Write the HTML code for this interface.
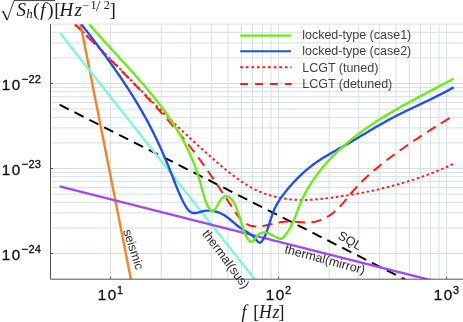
<!DOCTYPE html>
<html><head><meta charset="utf-8"><title>Sensitivity curves</title>
<style>
html,body{margin:0;padding:0;background:#fff;}
body{width:463px;height:322px;overflow:hidden;font-family:"Liberation Sans",sans-serif;}
svg{display:block;will-change:transform;}
</style></head><body>
<svg width="463" height="322" viewBox="0 0 463 322">
<rect width="463" height="322" fill="#fff"/>
<path d="M110.6,24.2 V279.2 M161.2,24.2 V279.2 M190.8,24.2 V279.2 M211.7,24.2 V279.2 M228.0,24.2 V279.2 M241.3,24.2 V279.2 M252.6,24.2 V279.2 M262.3,24.2 V279.2 M270.9,24.2 V279.2 M278.6,24.2 V279.2 M329.2,24.2 V279.2 M358.8,24.2 V279.2 M379.7,24.2 V279.2 M396.0,24.2 V279.2 M409.3,24.2 V279.2 M420.6,24.2 V279.2 M430.3,24.2 V279.2 M438.9,24.2 V279.2 M446.6,24.2 V279.2 M50.5,253.5 H463 M50.5,227.9 H463 M50.5,212.9 H463 M50.5,202.3 H463 M50.5,194.1 H463 M50.5,187.4 H463 M50.5,181.7 H463 M50.5,176.7 H463 M50.5,172.4 H463 M50.5,168.5 H463 M50.5,142.9 H463 M50.5,127.9 H463 M50.5,117.3 H463 M50.5,109.1 H463 M50.5,102.4 H463 M50.5,96.7 H463 M50.5,91.7 H463 M50.5,87.4 H463 M50.5,83.5 H463 M50.5,57.9 H463 M50.5,42.9 H463 M50.5,32.3 H463 M50.5,24.1 H463" stroke="#d6dfe4" stroke-width="1" fill="none"/>
<clipPath id="c"><rect x="50.5" y="24.2" width="412.5" height="255.0"/></clipPath>
<g clip-path="url(#c)" fill="none" stroke-width="2.35">
<path d="M59.6,104.7 L408.4,281.2" stroke="#000" stroke-width="1.95" stroke-dasharray="10.2 6.47"/>
<path d="M75.0,24.5 L75.8,25.3 L76.6,26.1 L77.5,26.9 L78.3,27.6 L79.1,28.4 L79.9,29.2 L80.7,29.9 L81.6,30.7 L82.4,31.5 L83.2,32.3 L84.0,33.0 L84.8,33.8 L85.6,34.6 L86.4,35.4 L87.3,36.2 L88.1,37.0 L88.9,37.7 L89.7,38.5 L90.5,39.3 L91.3,40.1 L92.1,40.9 L92.9,41.7 L93.7,42.5 L94.5,43.3 L95.3,44.0 L96.1,44.8 L96.9,45.6 L97.7,46.4 L98.5,47.2 L99.4,48.0 L100.2,48.8 L101.0,49.6 L101.8,50.4 L102.6,51.2 L103.4,52.0 L104.1,52.8 L104.9,53.6 L105.7,54.4 L106.5,55.2 L107.3,56.0 L108.1,56.8 L108.9,57.6 L109.7,58.4 L110.5,59.2 L111.3,60.0 L112.1,60.8 L112.9,61.6 L113.7,62.4 L114.5,63.2 L115.3,64.0 L116.1,64.8 L116.9,65.6 L117.7,66.5 L118.5,67.3 L119.2,68.1 L120.0,68.9 L120.8,69.7 L121.6,70.5 L122.4,71.3 L123.2,72.1 L124.0,72.9 L124.8,73.7 L125.6,74.5 L126.4,75.3 L127.2,76.1 L127.9,76.9 L128.7,77.8 L129.5,78.6 L130.3,79.4 L131.1,80.2 L131.9,81.0 L132.7,81.8 L133.5,82.6 L134.3,83.4 L135.1,84.2 L135.8,85.0 L136.6,85.8 L137.4,86.6 L138.2,87.4 L139.0,88.2 L139.8,89.0 L140.6,89.8 L141.4,90.7 L142.2,91.5 L143.0,92.3 L143.8,93.1 L144.5,93.9 L145.3,94.7 L146.1,95.5 L146.9,96.3 L147.7,97.1 L148.5,97.9 L149.3,98.7 L150.1,99.5 L150.9,100.3 L151.7,101.1 L152.5,101.9 L153.3,102.7 L154.1,103.5 L154.9,104.3 L155.7,105.1 L156.5,105.9 L157.3,106.7 L158.1,107.5 L158.9,108.2 L159.7,109.0 L160.4,109.8 L161.2,110.6 L162.0,111.4 L162.9,112.2 L163.7,113.0 L164.5,113.8 L165.3,114.6 L166.1,115.3 L166.9,116.1 L167.7,116.9 L168.5,117.7 L169.3,118.5 L170.1,119.3 L170.9,120.0 L171.7,120.8 L172.5,121.6 L173.3,122.4 L174.1,123.2 L174.9,123.9 L175.7,124.7 L176.6,125.5 L177.4,126.3 L178.2,127.0 L179.0,127.8 L179.8,128.6 L180.6,129.4 L181.5,130.1 L182.3,130.9 L183.1,131.7 L183.9,132.5 L184.7,133.2 L185.5,134.0 L186.4,134.8 L187.2,135.5 L188.0,136.3 L188.8,137.1 L189.7,137.8 L190.5,138.6 L191.3,139.4 L192.2,140.1 L193.0,140.9 L193.8,141.6 L194.7,142.4 L195.5,143.2 L196.3,143.9 L197.2,144.7 L198.0,145.4 L198.8,146.2 L199.7,147.0 L200.5,147.7 L201.4,148.5 L202.2,149.2 L203.0,150.0 L203.9,150.7 L204.7,151.5 L205.6,152.2 L206.4,153.0 L207.3,153.7 L208.1,154.5 L209.0,155.2 L209.8,156.0 L210.7,156.7 L211.5,157.5 L212.4,158.2 L213.3,159.0 L214.1,159.7 L215.0,160.5 L215.9,161.2 L216.7,162.0 L217.6,162.7 L218.5,163.5 L219.3,164.2 L220.2,164.9 L221.1,165.7 L221.9,166.4 L222.8,167.2 L223.7,167.9 L224.6,168.6 L225.5,169.4 L226.3,170.1 L227.2,170.8 L228.1,171.5 L229.0,172.3 L229.9,173.0 L230.8,173.7 L231.7,174.4 L232.6,175.1 L233.5,175.8 L234.4,176.5 L235.3,177.1 L236.2,177.8 L237.2,178.5 L238.1,179.2 L239.0,179.8 L239.9,180.5 L240.9,181.1 L241.8,181.7 L242.7,182.4 L243.7,183.0 L244.6,183.6 L245.6,184.2 L246.5,184.8 L247.5,185.4 L248.5,185.9 L249.4,186.5 L250.4,187.1 L251.4,187.6 L252.4,188.1 L253.3,188.6 L254.3,189.2 L255.3,189.7 L256.3,190.1 L257.3,190.6 L258.4,191.1 L259.4,191.5 L260.4,191.9 L261.4,192.4 L262.5,192.8 L263.5,193.2 L264.5,193.6 L265.6,193.9 L266.6,194.3 L267.7,194.6 L268.7,195.0 L269.8,195.3 L270.9,195.6 L271.9,195.9 L273.0,196.2 L274.1,196.5 L275.2,196.8 L276.2,197.0 L277.3,197.3 L278.4,197.5 L279.5,197.7 L280.6,197.9 L281.7,198.1 L282.8,198.3 L283.9,198.5 L285.0,198.7 L286.1,198.8 L287.2,199.0 L288.3,199.1 L289.4,199.2 L290.6,199.4 L291.7,199.5 L292.8,199.6 L293.9,199.6 L295.0,199.7 L296.2,199.8 L297.3,199.8 L298.4,199.9 L299.5,199.9 L300.7,199.9 L301.8,199.9 L302.9,199.9 L304.0,199.9 L305.2,199.9 L306.3,199.9 L307.4,199.9 L308.6,199.8 L309.7,199.8 L310.8,199.7 L312.0,199.7 L313.1,199.6 L314.3,199.5 L315.4,199.4 L316.5,199.3 L317.7,199.2 L318.8,199.1 L319.9,199.0 L321.1,198.9 L322.2,198.8 L323.3,198.7 L324.5,198.6 L325.6,198.4 L326.7,198.3 L327.9,198.2 L329.0,198.0 L330.1,197.9 L331.3,197.7 L332.4,197.6 L333.5,197.4 L334.7,197.3 L335.8,197.1 L336.9,197.0 L338.1,196.8 L339.2,196.6 L340.3,196.5 L341.4,196.3 L342.6,196.1 L343.7,196.0 L344.8,195.8 L345.9,195.6 L347.0,195.4 L348.2,195.2 L349.3,195.1 L350.4,194.9 L351.5,194.7 L352.6,194.5 L353.7,194.3 L354.9,194.1 L356.0,193.9 L357.1,193.7 L358.2,193.5 L359.3,193.3 L360.4,193.1 L361.5,192.9 L362.6,192.7 L363.7,192.5 L364.8,192.2 L365.9,192.0 L367.1,191.8 L368.2,191.6 L369.3,191.3 L370.4,191.1 L371.5,190.9 L372.6,190.7 L373.7,190.4 L374.8,190.2 L375.9,189.9 L377.0,189.7 L378.1,189.4 L379.1,189.2 L380.2,188.9 L381.3,188.7 L382.4,188.4 L383.5,188.1 L384.6,187.9 L385.7,187.6 L386.8,187.3 L387.9,187.1 L389.0,186.8 L390.1,186.5 L391.1,186.2 L392.2,185.9 L393.3,185.6 L394.4,185.4 L395.5,185.1 L396.6,184.8 L397.6,184.5 L398.7,184.2 L399.8,183.8 L400.9,183.5 L402.0,183.2 L403.0,182.9 L404.1,182.6 L405.2,182.3 L406.3,181.9 L407.3,181.6 L408.4,181.3 L409.5,180.9 L410.6,180.6 L411.6,180.3 L412.7,179.9 L413.8,179.6 L414.8,179.2 L415.9,178.8 L417.0,178.5 L418.0,178.1 L419.1,177.8 L420.2,177.4 L421.2,177.0 L422.3,176.6 L423.4,176.3 L424.4,175.9 L425.5,175.5 L426.5,175.1 L427.6,174.7 L428.6,174.3 L429.7,173.9 L430.8,173.5 L431.8,173.1 L432.9,172.7 L433.9,172.3 L435.0,171.8 L436.0,171.4 L437.1,171.0 L438.1,170.6 L439.2,170.1 L440.2,169.7 L441.3,169.3 L442.3,168.8 L443.4,168.4 L444.4,167.9 L445.5,167.4 L446.5,167.0 L447.6,166.5 L448.6,166.1 L449.7,165.6 L450.7,165.1 L451.7,164.6 L452.8,164.1 L453.8,163.7" stroke="#ff1a1a" stroke-width="2.0" stroke-dasharray="2.45 2.75"/>
<path d="M75.1,24.4 L76.0,25.3 L76.9,26.2 L77.8,27.1 L78.8,28.0 L79.7,28.9 L80.6,29.8 L81.5,30.7 L82.4,31.6 L83.3,32.5 L84.2,33.4 L85.2,34.3 L86.1,35.2 L87.0,36.1 L87.9,37.0 L88.8,38.0 L89.7,38.9 L90.6,39.8 L91.5,40.7 L92.4,41.6 L93.3,42.5 L94.2,43.4 L95.1,44.3 L96.0,45.2 L97.0,46.1 L97.9,47.0 L98.8,47.9 L99.7,48.8 L100.6,49.7 L101.5,50.6 L102.4,51.5 L103.3,52.4 L104.2,53.3 L105.1,54.2 L106.0,55.1 L106.9,56.0 L107.8,56.9 L108.7,57.9 L109.6,58.8 L110.5,59.7 L111.3,60.6 L112.2,61.5 L113.1,62.4 L114.0,63.3 L114.9,64.2 L115.8,65.1 L116.7,66.0 L117.6,66.9 L118.5,67.8 L119.4,68.7 L120.3,69.7 L121.2,70.6 L122.1,71.5 L123.0,72.4 L123.9,73.3 L124.7,74.2 L125.6,75.1 L126.5,76.0 L127.4,77.0 L128.3,77.9 L129.2,78.8 L130.1,79.7 L131.0,80.6 L131.9,81.5 L132.8,82.5 L133.6,83.4 L134.5,84.3 L135.4,85.2 L136.3,86.1 L137.2,87.1 L138.1,88.0 L139.0,88.9 L139.9,89.8 L140.7,90.8 L141.6,91.7 L142.5,92.6 L143.4,93.5 L144.3,94.5 L145.2,95.4 L146.0,96.3 L146.9,97.3 L147.8,98.2 L148.7,99.1 L149.6,100.1 L150.4,101.0 L151.3,101.9 L152.2,102.9 L153.1,103.8 L153.9,104.8 L154.8,105.7 L155.7,106.7 L156.6,107.6 L157.4,108.5 L158.3,109.5 L159.2,110.4 L160.0,111.4 L160.9,112.3 L161.8,113.3 L162.6,114.2 L163.5,115.2 L164.3,116.1 L165.2,117.1 L166.1,118.1 L166.9,119.0 L167.8,120.0 L168.6,120.9 L169.5,121.9 L170.3,122.9 L171.1,123.8 L172.0,124.8 L172.8,125.8 L173.7,126.7 L174.5,127.7 L175.3,128.7 L176.2,129.7 L177.0,130.6 L177.8,131.6 L178.6,132.6 L179.5,133.6 L180.3,134.6 L181.1,135.5 L181.9,136.5 L182.7,137.5 L183.5,138.5 L184.3,139.5 L185.1,140.5 L185.9,141.5 L186.7,142.5 L187.5,143.5 L188.3,144.5 L189.1,145.5 L189.9,146.5 L190.7,147.5 L191.5,148.5 L192.2,149.5 L193.0,150.5 L193.8,151.5 L194.5,152.5 L195.3,153.6 L196.1,154.6 L196.8,155.6 L197.6,156.6 L198.3,157.6 L199.1,158.7 L199.8,159.7 L200.6,160.7 L201.3,161.7 L202.1,162.8 L202.8,163.8 L203.6,164.8 L204.3,165.9 L205.0,166.9 L205.8,168.0 L206.5,169.0 L207.2,170.0 L207.9,171.1 L208.7,172.1 L209.4,173.2 L210.1,174.2 L210.8,175.3 L211.6,176.3 L212.3,177.4 L213.0,178.4 L213.7,179.5 L214.4,180.6 L215.1,181.6 L215.9,182.7 L216.6,183.7 L217.3,184.8 L218.0,185.9 L218.7,186.9 L219.4,188.0 L220.1,189.1 L220.8,190.2 L221.5,191.2 L222.2,192.3 L223.0,193.4 L223.7,194.5 L224.4,195.5 L225.1,196.6 L225.8,197.7 L226.5,198.8 L227.2,199.9 L227.9,201.0 L228.6,202.0 L229.3,203.1 L230.1,204.2 L230.8,205.3 L231.5,206.4 L232.2,207.5 L232.9,208.6 L233.6,209.7 L234.3,210.8 L235.1,211.9 L235.8,213.0 L236.5,214.0 L237.3,215.1 L238.0,216.1 L238.8,217.2 L239.6,218.1 L240.4,219.1 L241.3,220.0 L242.2,220.8 L243.1,221.6 L244.0,222.4 L245.0,223.0 L246.0,223.7 L247.1,224.2 L248.1,224.7 L249.2,225.2 L250.4,225.6 L251.5,225.9 L252.7,226.1 L253.9,226.3 L255.1,226.4 L256.3,226.5 L257.5,226.5 L258.8,226.4 L260.0,226.3 L261.3,226.2 L262.6,226.0 L263.9,225.8 L265.1,225.5 L266.4,225.3 L267.7,225.0 L269.1,224.7 L270.4,224.4 L271.7,224.1 L273.0,223.8 L274.3,223.4 L275.6,223.1 L276.9,222.9 L278.2,222.6 L279.6,222.4 L280.9,222.1 L282.2,222.0 L283.4,221.8 L284.7,221.7 L286.0,221.6 L287.3,221.5 L288.6,221.5 L289.9,221.5 L291.1,221.5 L292.4,221.6 L293.7,221.6 L295.0,221.7 L296.3,221.8 L297.5,221.9 L298.8,222.0 L300.1,222.2 L301.4,222.3 L302.6,222.3 L303.9,222.4 L305.2,222.5 L306.4,222.5 L307.7,222.5 L308.9,222.5 L310.2,222.4 L311.4,222.3 L312.7,222.1 L313.9,221.9 L315.1,221.7 L316.3,221.4 L317.5,221.0 L318.7,220.7 L319.9,220.3 L321.1,219.8 L322.3,219.3 L323.4,218.8 L324.5,218.3 L325.7,217.7 L326.8,217.1 L327.9,216.4 L329.0,215.8 L330.0,215.1 L331.1,214.3 L332.1,213.6 L333.2,212.8 L334.2,212.0 L335.1,211.2 L336.1,210.3 L337.0,209.5 L338.0,208.6 L338.9,207.7 L339.8,206.7 L340.7,205.8 L341.5,204.8 L342.4,203.9 L343.2,202.9 L344.1,201.9 L344.9,200.9 L345.7,199.9 L346.5,198.9 L347.4,197.9 L348.2,196.9 L349.0,195.9 L349.8,194.9 L350.6,193.9 L351.4,192.9 L352.3,192.0 L353.1,191.0 L353.9,190.0 L354.8,189.1 L355.7,188.1 L356.5,187.2 L357.4,186.3 L358.2,185.3 L359.1,184.4 L360.0,183.5 L360.9,182.6 L361.8,181.7 L362.7,180.8 L363.6,179.9 L364.5,179.1 L365.4,178.2 L366.3,177.3 L367.2,176.5 L368.2,175.6 L369.1,174.8 L370.0,173.9 L371.0,173.1 L371.9,172.3 L372.9,171.4 L373.8,170.6 L374.8,169.8 L375.8,169.0 L376.7,168.2 L377.7,167.4 L378.7,166.6 L379.7,165.8 L380.6,165.0 L381.6,164.2 L382.6,163.4 L383.6,162.6 L384.6,161.8 L385.6,161.0 L386.6,160.3 L387.6,159.5 L388.6,158.7 L389.6,158.0 L390.7,157.2 L391.7,156.5 L392.7,155.7 L393.7,154.9 L394.8,154.2 L395.8,153.4 L396.8,152.7 L397.9,151.9 L398.9,151.2 L399.9,150.4 L401.0,149.7 L402.0,149.0 L403.1,148.2 L404.1,147.5 L405.2,146.7 L406.2,146.0 L407.3,145.3 L408.4,144.5 L409.4,143.8 L410.5,143.1 L411.5,142.4 L412.6,141.6 L413.7,140.9 L414.7,140.2 L415.8,139.5 L416.9,138.8 L418.0,138.1 L419.0,137.3 L420.1,136.6 L421.2,135.9 L422.3,135.2 L423.3,134.5 L424.4,133.8 L425.5,133.1 L426.6,132.4 L427.7,131.7 L428.8,131.0 L429.8,130.3 L430.9,129.6 L432.0,128.9 L433.1,128.3 L434.2,127.6 L435.3,126.9 L436.4,126.2 L437.4,125.5 L438.5,124.9 L439.6,124.2 L440.7,123.5 L441.8,122.8 L442.9,122.2 L444.0,121.5 L445.1,120.8 L446.1,120.2 L447.2,119.5 L448.3,118.9 L449.4,118.2 L450.5,117.5 L451.6,116.9 L452.7,116.2 L453.7,115.6" stroke="#ff1a1a" stroke-width="2.0" stroke-dasharray="10.2 6.3"/>
<path d="M80.4,23.5 L131.3,281.2" stroke="#ff7d1e"/>
<path d="M60.0,33.0 L256.2,281.2" stroke="#7df7d6"/>
<path d="M59.6,186.4 L435.0,281.2" stroke="#a347f5"/>
<path d="M81.3,24.2 L82.2,25.3 L83.1,26.4 L83.9,27.5 L84.8,28.6 L85.6,29.7 L86.5,30.8 L87.3,31.9 L88.2,33.0 L89.0,34.1 L89.9,35.2 L90.7,36.3 L91.6,37.4 L92.4,38.6 L93.3,39.7 L94.1,40.8 L95.0,41.9 L95.8,43.0 L96.6,44.1 L97.5,45.2 L98.3,46.4 L99.2,47.5 L100.0,48.6 L100.8,49.7 L101.7,50.8 L102.5,51.9 L103.3,53.1 L104.1,54.2 L105.0,55.3 L105.8,56.4 L106.6,57.6 L107.4,58.7 L108.3,59.8 L109.1,61.0 L109.9,62.1 L110.7,63.2 L111.5,64.4 L112.3,65.5 L113.1,66.6 L113.9,67.8 L114.7,68.9 L115.5,70.1 L116.3,71.2 L117.1,72.3 L117.9,73.5 L118.7,74.6 L119.5,75.8 L120.3,76.9 L121.1,78.1 L121.8,79.3 L122.6,80.4 L123.4,81.6 L124.2,82.7 L124.9,83.9 L125.7,85.1 L126.5,86.2 L127.2,87.4 L128.0,88.6 L128.8,89.7 L129.5,90.9 L130.3,92.1 L131.0,93.3 L131.7,94.4 L132.5,95.6 L133.2,96.8 L134.0,98.0 L134.7,99.2 L135.4,100.4 L136.1,101.6 L136.9,102.8 L137.6,103.9 L138.3,105.1 L139.0,106.3 L139.7,107.6 L140.4,108.8 L141.1,110.0 L141.8,111.2 L142.5,112.4 L143.2,113.6 L143.9,114.8 L144.6,116.0 L145.2,117.3 L145.9,118.5 L146.6,119.7 L147.3,120.9 L147.9,122.2 L148.6,123.4 L149.2,124.7 L149.9,125.9 L150.5,127.1 L151.2,128.4 L151.8,129.6 L152.4,130.9 L153.1,132.1 L153.7,133.4 L154.3,134.7 L154.9,135.9 L155.5,137.2 L156.2,138.4 L156.8,139.7 L157.4,141.0 L158.0,142.2 L158.5,143.5 L159.1,144.8 L159.7,146.1 L160.3,147.3 L160.9,148.6 L161.5,149.9 L162.0,151.2 L162.6,152.5 L163.2,153.7 L163.7,155.0 L164.3,156.3 L164.8,157.6 L165.4,158.9 L165.9,160.2 L166.5,161.4 L167.0,162.7 L167.5,164.0 L168.1,165.3 L168.6,166.6 L169.1,167.9 L169.6,169.2 L170.1,170.5 L170.6,171.7 L171.2,173.0 L171.7,174.3 L172.2,175.6 L172.7,176.9 L173.2,178.2 L173.6,179.5 L174.1,180.8 L174.6,182.0 L175.1,183.3 L175.6,184.6 L176.1,185.9 L176.7,187.2 L177.2,188.5 L177.7,189.7 L178.2,191.0 L178.8,192.3 L179.3,193.6 L179.9,194.9 L180.5,196.1 L181.1,197.4 L181.7,198.7 L182.3,199.9 L182.9,201.2 L183.6,202.5 L184.3,203.7 L185.0,205.0 L185.7,206.2 L186.4,207.5 L187.2,208.7 L188.1,209.8 L189.0,210.8 L190.0,211.6 L191.1,212.3 L192.3,212.8 L193.7,213.0 L195.2,213.0 L196.6,212.8 L198.0,212.6 L199.4,212.2 L200.7,211.8 L202.1,211.4 L203.4,211.1 L204.8,210.8 L206.2,210.7 L207.5,210.6 L208.9,210.6 L210.3,210.6 L211.7,210.8 L213.1,211.0 L214.5,211.2 L215.8,211.6 L217.2,212.0 L218.5,212.4 L219.8,213.0 L221.1,213.5 L222.3,214.2 L223.5,214.8 L224.7,215.6 L225.8,216.3 L227.0,217.1 L228.1,218.0 L229.2,218.8 L230.3,219.7 L231.3,220.6 L232.4,221.5 L233.5,222.4 L234.5,223.2 L235.6,224.1 L236.6,225.0 L237.7,225.9 L238.7,226.7 L239.8,227.5 L240.9,228.3 L242.0,229.0 L243.2,229.7 L244.3,230.4 L245.5,231.1 L246.6,231.7 L247.8,232.4 L248.9,233.2 L250.1,233.9 L251.2,234.8 L252.4,235.7 L253.5,236.7 L254.5,237.8 L255.6,239.0 L256.6,240.3 L257.6,241.5 L258.7,242.3 L259.7,242.7 L260.7,242.5 L261.5,241.7 L262.3,240.6 L263.1,239.4 L263.7,238.2 L264.4,236.9 L265.0,235.7 L265.6,234.4 L266.1,233.1 L266.6,231.8 L267.1,230.5 L267.6,229.2 L268.0,227.9 L268.5,226.5 L268.9,225.2 L269.3,223.9 L269.7,222.5 L270.2,221.2 L270.6,219.8 L271.0,218.5 L271.4,217.1 L271.9,215.8 L272.3,214.5 L272.8,213.2 L273.3,211.8 L273.8,210.6 L274.4,209.3 L274.9,208.0 L275.6,206.8 L276.2,205.5 L276.9,204.3 L277.6,203.1 L278.3,201.9 L279.0,200.7 L279.8,199.6 L280.5,198.4 L281.3,197.3 L282.2,196.1 L283.0,195.0 L283.8,193.9 L284.7,192.8 L285.6,191.7 L286.4,190.6 L287.3,189.5 L288.2,188.4 L289.1,187.4 L290.0,186.3 L291.0,185.3 L291.9,184.2 L292.8,183.2 L293.8,182.2 L294.7,181.2 L295.7,180.2 L296.6,179.2 L297.6,178.2 L298.6,177.2 L299.6,176.2 L300.6,175.3 L301.6,174.3 L302.6,173.4 L303.7,172.4 L304.7,171.5 L305.7,170.6 L306.8,169.7 L307.9,168.8 L308.9,167.9 L310.0,167.1 L311.1,166.2 L312.2,165.4 L313.3,164.5 L314.4,163.7 L315.6,162.9 L316.7,162.1 L317.8,161.3 L319.0,160.6 L320.2,159.8 L321.3,159.0 L322.5,158.3 L323.7,157.6 L324.9,156.8 L326.1,156.1 L327.3,155.4 L328.5,154.7 L329.7,154.0 L330.9,153.3 L332.1,152.6 L333.3,151.9 L334.5,151.2 L335.8,150.5 L337.0,149.8 L338.2,149.1 L339.4,148.4 L340.7,147.7 L341.9,147.1 L343.1,146.4 L344.3,145.7 L345.5,145.0 L346.7,144.3 L348.0,143.6 L349.2,142.9 L350.4,142.2 L351.6,141.5 L352.8,140.8 L354.0,140.1 L355.2,139.4 L356.4,138.7 L357.6,138.0 L358.8,137.3 L360.0,136.5 L361.2,135.8 L362.4,135.1 L363.6,134.4 L364.8,133.7 L366.0,133.0 L367.2,132.3 L368.4,131.6 L369.6,130.8 L370.8,130.1 L371.9,129.4 L373.1,128.7 L374.3,128.0 L375.5,127.3 L376.7,126.6 L377.9,125.9 L379.2,125.2 L380.4,124.5 L381.6,123.8 L382.8,123.2 L384.0,122.5 L385.2,121.8 L386.4,121.1 L387.6,120.5 L388.9,119.8 L390.1,119.1 L391.3,118.5 L392.5,117.8 L393.8,117.2 L395.0,116.5 L396.3,115.9 L397.5,115.3 L398.7,114.6 L400.0,114.0 L401.2,113.4 L402.5,112.8 L403.8,112.2 L405.0,111.5 L406.3,110.9 L407.5,110.3 L408.8,109.7 L410.1,109.1 L411.3,108.5 L412.6,107.9 L413.8,107.3 L415.1,106.7 L416.4,106.1 L417.6,105.5 L418.9,104.9 L420.2,104.3 L421.4,103.7 L422.7,103.1 L424.0,102.5 L425.2,101.9 L426.5,101.3 L427.8,100.7 L429.0,100.1 L430.3,99.5 L431.5,98.9 L432.8,98.3 L434.0,97.6 L435.3,97.0 L436.5,96.4 L437.8,95.8 L439.0,95.1 L440.3,94.5 L441.5,93.9 L442.8,93.2 L444.0,92.6 L445.2,91.9 L446.4,91.3 L447.7,90.6 L448.9,89.9 L450.1,89.2 L451.3,88.6 L452.5,87.9 L453.7,87.2" stroke="#204cf4"/>
<path d="M89.2,24.2 L90.1,25.3 L91.0,26.4 L92.0,27.5 L92.9,28.6 L93.9,29.7 L94.8,30.8 L95.8,31.8 L96.8,32.9 L97.7,34.0 L98.7,35.1 L99.7,36.2 L100.6,37.2 L101.6,38.3 L102.6,39.4 L103.6,40.5 L104.5,41.5 L105.5,42.6 L106.5,43.7 L107.5,44.8 L108.5,45.8 L109.5,46.9 L110.4,48.0 L111.4,49.1 L112.4,50.1 L113.4,51.2 L114.4,52.3 L115.4,53.4 L116.4,54.5 L117.4,55.5 L118.4,56.6 L119.4,57.7 L120.3,58.8 L121.3,59.9 L122.3,60.9 L123.3,62.0 L124.3,63.1 L125.3,64.2 L126.3,65.3 L127.3,66.4 L128.3,67.4 L129.2,68.5 L130.2,69.6 L131.2,70.7 L132.2,71.8 L133.2,72.9 L134.2,74.0 L135.1,75.1 L136.1,76.2 L137.1,77.3 L138.0,78.4 L139.0,79.5 L140.0,80.6 L140.9,81.7 L141.9,82.8 L142.9,83.9 L143.8,85.0 L144.8,86.1 L145.7,87.3 L146.7,88.4 L147.6,89.5 L148.5,90.6 L149.5,91.7 L150.4,92.9 L151.3,94.0 L152.3,95.1 L153.2,96.3 L154.1,97.4 L155.0,98.5 L155.9,99.7 L156.8,100.8 L157.7,102.0 L158.6,103.1 L159.5,104.3 L160.4,105.4 L161.2,106.6 L162.1,107.8 L163.0,108.9 L163.9,110.1 L164.7,111.3 L165.6,112.5 L166.4,113.6 L167.2,114.8 L168.1,116.0 L168.9,117.2 L169.7,118.4 L170.5,119.6 L171.3,120.8 L172.1,122.0 L172.9,123.2 L173.7,124.4 L174.5,125.6 L175.3,126.9 L176.1,128.1 L176.8,129.3 L177.6,130.6 L178.3,131.8 L179.0,133.0 L179.8,134.3 L180.5,135.5 L181.2,136.8 L181.9,138.1 L182.6,139.3 L183.3,140.6 L184.0,141.9 L184.7,143.2 L185.3,144.4 L186.0,145.7 L186.6,147.0 L187.3,148.3 L187.9,149.6 L188.5,150.9 L189.1,152.3 L189.7,153.6 L190.3,154.9 L190.9,156.2 L191.5,157.6 L192.1,158.9 L192.6,160.3 L193.2,161.6 L193.7,163.0 L194.2,164.3 L194.8,165.7 L195.3,167.1 L195.8,168.4 L196.3,169.8 L196.7,171.2 L197.2,172.6 L197.7,174.0 L198.1,175.4 L198.6,176.8 L199.0,178.2 L199.4,179.7 L199.9,181.1 L200.3,182.5 L200.7,184.0 L201.0,185.4 L201.4,186.9 L201.8,188.3 L202.2,189.7 L202.6,191.2 L203.0,192.6 L203.4,194.0 L203.8,195.5 L204.2,196.9 L204.7,198.2 L205.1,199.6 L205.6,201.0 L206.2,202.3 L206.7,203.6 L207.3,204.9 L207.9,206.1 L208.6,207.3 L209.3,208.5 L210.0,209.7 L210.8,210.6 L211.7,211.1 L212.6,211.1 L213.6,210.7 L214.5,209.9 L215.3,208.9 L216.2,207.6 L217.0,206.2 L217.8,204.7 L218.6,203.1 L219.5,201.6 L220.4,200.1 L221.4,198.8 L222.4,197.8 L223.6,196.9 L224.9,196.4 L226.3,196.3 L227.6,196.5 L228.8,196.9 L229.9,197.6 L230.9,198.6 L231.8,199.6 L232.7,200.8 L233.5,202.1 L234.3,203.4 L235.0,204.8 L235.6,206.1 L236.2,207.5 L236.8,208.8 L237.3,210.2 L237.8,211.5 L238.3,212.9 L238.8,214.3 L239.2,215.6 L239.6,217.0 L240.0,218.4 L240.4,219.8 L240.8,221.2 L241.2,222.6 L241.6,224.0 L242.1,225.3 L242.5,226.7 L243.0,228.1 L243.4,229.5 L243.9,230.9 L244.5,232.3 L245.1,233.7 L245.7,235.1 L246.4,236.4 L247.1,237.7 L247.9,239.0 L248.8,240.3 L249.8,241.3 L250.8,241.8 L251.9,241.7 L253.0,241.0 L254.1,239.9 L255.1,238.6 L256.0,237.3 L257.0,236.1 L258.0,235.0 L259.1,234.1 L260.3,233.4 L261.7,232.9 L263.1,232.6 L264.6,232.5 L266.0,232.6 L267.4,232.9 L268.8,233.4 L270.2,234.0 L271.5,234.8 L272.9,235.5 L274.2,236.3 L275.6,237.0 L277.0,237.7 L278.5,238.3 L279.9,238.7 L281.2,238.7 L282.4,238.3 L283.4,237.5 L284.4,236.4 L285.3,235.3 L286.1,234.2 L286.9,233.0 L287.7,231.8 L288.5,230.6 L289.2,229.4 L289.9,228.2 L290.5,226.9 L291.2,225.6 L291.8,224.4 L292.4,223.1 L293.0,221.8 L293.6,220.4 L294.2,219.1 L294.7,217.8 L295.3,216.4 L295.8,215.1 L296.4,213.7 L296.9,212.3 L297.4,211.0 L297.9,209.6 L298.5,208.3 L299.0,206.9 L299.6,205.5 L300.1,204.2 L300.7,202.8 L301.3,201.4 L301.9,200.1 L302.5,198.7 L303.1,197.4 L303.7,196.1 L304.4,194.8 L305.1,193.5 L305.8,192.1 L306.5,190.9 L307.2,189.6 L307.9,188.3 L308.7,187.0 L309.5,185.8 L310.2,184.5 L311.0,183.3 L311.8,182.0 L312.6,180.8 L313.5,179.6 L314.3,178.4 L315.1,177.2 L316.0,176.0 L316.9,174.8 L317.7,173.6 L318.6,172.5 L319.5,171.3 L320.4,170.2 L321.3,169.0 L322.2,167.9 L323.2,166.8 L324.1,165.7 L325.0,164.6 L326.0,163.5 L327.0,162.4 L327.9,161.4 L328.9,160.3 L329.9,159.2 L330.9,158.2 L331.9,157.1 L332.9,156.1 L333.9,155.1 L334.9,154.1 L336.0,153.0 L337.0,152.0 L338.0,151.1 L339.1,150.1 L340.2,149.1 L341.2,148.1 L342.3,147.1 L343.4,146.2 L344.5,145.2 L345.6,144.3 L346.7,143.3 L347.8,142.4 L348.9,141.5 L350.0,140.6 L351.1,139.7 L352.2,138.8 L353.4,137.9 L354.5,137.0 L355.7,136.1 L356.8,135.2 L358.0,134.3 L359.1,133.4 L360.3,132.6 L361.5,131.7 L362.6,130.9 L363.8,130.0 L365.0,129.2 L366.2,128.3 L367.4,127.5 L368.6,126.7 L369.8,125.9 L371.0,125.0 L372.2,124.2 L373.4,123.4 L374.7,122.6 L375.9,121.8 L377.1,121.0 L378.3,120.3 L379.6,119.5 L380.8,118.7 L382.1,117.9 L383.3,117.1 L384.6,116.4 L385.8,115.6 L387.1,114.9 L388.3,114.1 L389.6,113.4 L390.8,112.6 L392.1,111.9 L393.4,111.1 L394.6,110.4 L395.9,109.6 L397.2,108.9 L398.5,108.2 L399.7,107.5 L401.0,106.7 L402.3,106.0 L403.6,105.3 L404.9,104.6 L406.1,103.9 L407.4,103.2 L408.7,102.5 L410.0,101.8 L411.3,101.1 L412.6,100.4 L413.9,99.7 L415.2,99.0 L416.4,98.3 L417.7,97.6 L419.0,96.9 L420.3,96.2 L421.6,95.5 L422.9,94.8 L424.2,94.2 L425.5,93.5 L426.8,92.8 L428.1,92.1 L429.4,91.4 L430.7,90.8 L431.9,90.1 L433.2,89.4 L434.5,88.7 L435.8,88.1 L437.1,87.4 L438.4,86.7 L439.7,86.0 L440.9,85.4 L442.2,84.7 L443.5,84.0 L444.8,83.4 L446.1,82.7 L447.3,82.0 L448.6,81.3 L449.9,80.7 L451.1,80.0 L452.4,79.3 L453.7,78.7" stroke="#69ee10"/>
</g>
<path d="M50.5,24.2 V279.2 H463" stroke="#555" stroke-width="1" fill="none"/>
<path d="M110.6,279.2 v-2.6 M278.6,279.2 v-2.6 M446.6,279.2 v-2.6 M50.5,253.5 h2.6 M50.5,168.5 h2.6 M50.5,83.5 h2.6" stroke="#555" stroke-width="1" fill="none"/>
<g fill="none" stroke-width="2.1">
<path d="M240.2,35.6 H291.0" stroke="#69ee10"/>
<path d="M240.2,51.3 H291.0" stroke="#204cf4"/>
<path d="M240.2,67.2 H291.6" stroke="#ff1a1a" stroke-dasharray="2.7 2.88"/>
<path d="M240.2,84.0 H291.6" stroke="#ff1a1a" stroke-dasharray="7.8 7.1"/>
</g>
<g font-family="'Liberation Sans', sans-serif" font-size="12.5" fill="#404040">
<text x="302.2" y="39.1">locked-type (case1)</text>
<text x="302.2" y="55.3">locked-type (case2)</text>
<text x="302.2" y="71.6">LCGT (tuned)</text>
<text x="302.2" y="88.0">LCGT (detuned)</text>
</g>
<g font-family="'Liberation Sans', sans-serif" font-size="12.5" fill="#2a2a2a" text-anchor="middle">
<text transform="translate(132.6,249.7) rotate(72)" y="3.2">seismic</text>
<text transform="translate(226,259) rotate(53.5)" y="4.3">thermal(sus)</text>
<text transform="translate(325,259.3) rotate(15)" y="4.3">thermal(mirror)</text>
<text transform="translate(350,240.5) rotate(30)" y="4.3">SQL</text>
</g>
<g font-family="'Liberation Sans', sans-serif" fill="#0d0d0d" stroke="#0d0d0d" stroke-width="0.3">
<text x="1.7" y="90.0" font-size="15.2" letter-spacing="1.6">10</text>
<text x="21.8" y="83.0" font-size="11.1" letter-spacing="0.2">−22</text>
<text x="1.7" y="175.0" font-size="15.2" letter-spacing="1.6">10</text>
<text x="21.8" y="168.0" font-size="11.1" letter-spacing="0.2">−23</text>
<text x="1.7" y="260.0" font-size="15.2" letter-spacing="1.6">10</text>
<text x="21.8" y="253.0" font-size="11.1" letter-spacing="0.2">−24</text>
<text x="97.8" y="300.4" font-size="15.2" letter-spacing="1.6">10</text>
<text x="117.0" y="293.7" font-size="10.8">1</text>
<text x="265.8" y="300.4" font-size="15.2" letter-spacing="1.6">10</text>
<text x="285.0" y="293.7" font-size="10.8">2</text>
<text x="433.8" y="300.4" font-size="15.2" letter-spacing="1.6">10</text>
<text x="453.0" y="293.7" font-size="10.8">3</text>
</g>
<g font-family="'Liberation Serif', serif" fill="#1a1a1a" font-size="19">
<path d="M1.6,12.4 L3.1,11.3" stroke="#1a1a1a" stroke-width="0.8" fill="none"/>
<path d="M3.1,11.3 L7.2,20" stroke="#1a1a1a" stroke-width="1.5" fill="none"/>
<path d="M7.2,20.2 L14,0.6 H55" stroke="#1a1a1a" stroke-width="0.85" fill="none" stroke-linejoin="miter"/>
<text x="16.6" y="16" font-style="italic">S</text>
<text x="26.2" y="18.2" font-style="italic" font-size="13">h</text>
<text x="33" y="16">(</text>
<text x="40.2" y="16" font-style="italic">f</text>
<text x="47.2" y="16">)</text>
<text x="54.3" y="16">[</text>
<text x="59.4" y="16" font-style="italic">H</text>
<text x="74.4" y="16" font-style="italic">z</text>
<g font-size="12.2">
<text x="82.4" y="10.3">−</text>
<text x="90.6" y="9.4">1</text>
<text x="95.9" y="11.4" font-size="15.5">/</text>
<text x="103.7" y="9.4">2</text>
</g>
<text x="109.6" y="16">]</text>
<g font-size="17.8">
<text x="241.6" y="317.7" font-style="italic">f</text>
<text x="253.2" y="317.7">[</text>
<text x="259" y="317.7" font-style="italic">H</text>
<text x="272.4" y="317.7" font-style="italic">z</text>
<text x="278.6" y="317.7">]</text>
</g>
</g>
</svg>
</body></html>
